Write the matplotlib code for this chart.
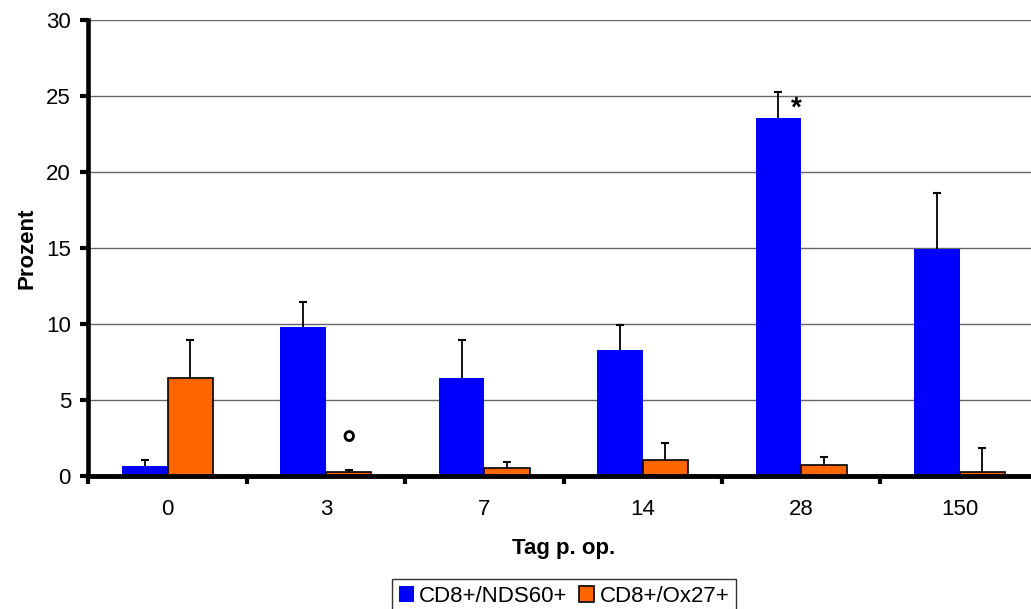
import numpy as np
import matplotlib.pyplot as plt

plt.rcParams['font.family'] = ['Liberation Sans', 'DejaVu Sans']

tage = ['0', '3', '7', '14', '28', '150']
nds60 = [0.65, 9.8, 6.45, 8.28, 23.53, 14.93]
nds60_err = [0.4, 1.66, 2.5, 1.62, 1.76, 3.67]
ox27 = [6.45, 0.27, 0.53, 1.06, 0.69, 0.27]
ox27_err = [2.5, 0.11, 0.4, 1.12, 0.57, 1.58]

fig = plt.figure(figsize=(10.31, 6.09), dpi=100)
# Achse ragt rechts etwas über das Bild hinaus wie im Original
ax = fig.add_axes([0.0857, 0.2187, 0.9218, 0.7484])

x = np.arange(len(tage))
w = 0.287
ax.bar(x - w/2, nds60, w, color='#0000ff', label='CD8+/NDS60+', zorder=3)
ax.bar(x + w/2, ox27, w, color='#ff6600', edgecolor='black', linewidth=1.2,
       label='CD8+/Ox27+', zorder=3)

# Fehlerbalken nur nach oben
for xs, ys, es in [(x - w/2, nds60, nds60_err), (x + w/2, ox27, ox27_err)]:
    eb = ax.errorbar(xs, ys, yerr=[np.zeros(len(es)), es], fmt='none', ecolor='black',
                     elinewidth=1.3, capsize=3.2, capthick=1.5, zorder=4)
    eb.lines[1][0].set_visible(False)

# Signifikanzmarken
ax.text(x[4] - 0.03, 23.7, '*', fontsize=20, fontweight='bold', ha='center', va='baseline', zorder=5)
ax.text(x[1] + w/2, 1.33, '°', fontsize=26, fontweight='bold', ha='center', va='baseline', zorder=5)

ax.set_xlim(-0.5, 5.5)
ax.set_ylim(0, 30)
ax.set_yticks(np.arange(0, 31, 5))
ax.set_xticks(np.arange(-0.5, 6, 1))
ax.set_xticklabels([])
ax.set_xticks(x, minor=True)
ax.set_xticklabels(tage, minor=True)
ax.tick_params(axis='x', which='minor', length=0, labelsize=16, pad=17)
ax.tick_params(axis='x', which='major', length=6, width=3, direction='out')
ax.tick_params(axis='y', length=6, width=3, direction='out', labelsize=16, pad=6.5)
ax.grid(axis='y', color='#666666', linewidth=1.0, zorder=0)
ax.set_axisbelow(True)
for s in ['top', 'right']:
    ax.spines[s].set_visible(False)
ax.spines['left'].set_linewidth(3.3)
ax.spines['bottom'].set_linewidth(3.5)
ax.spines['bottom'].set_zorder(6)

ax.set_ylabel('Prozent', fontsize=16, fontweight='bold', labelpad=6)
ax.set_xlabel('Tag p. op.', fontsize=16, fontweight='bold', labelpad=13)

leg = fig.legend(loc='upper center', bbox_to_anchor=(0.547, 0.0493), ncol=2, fontsize=16,
                 frameon=True, fancybox=False, edgecolor='black', handlelength=0.7, handleheight=0.7,
                 handletextpad=0.23, columnspacing=0.5, borderpad=0.3, borderaxespad=0.0)
leg.get_frame().set_linewidth(1.0)

fig.savefig('out.png', dpi=100)
